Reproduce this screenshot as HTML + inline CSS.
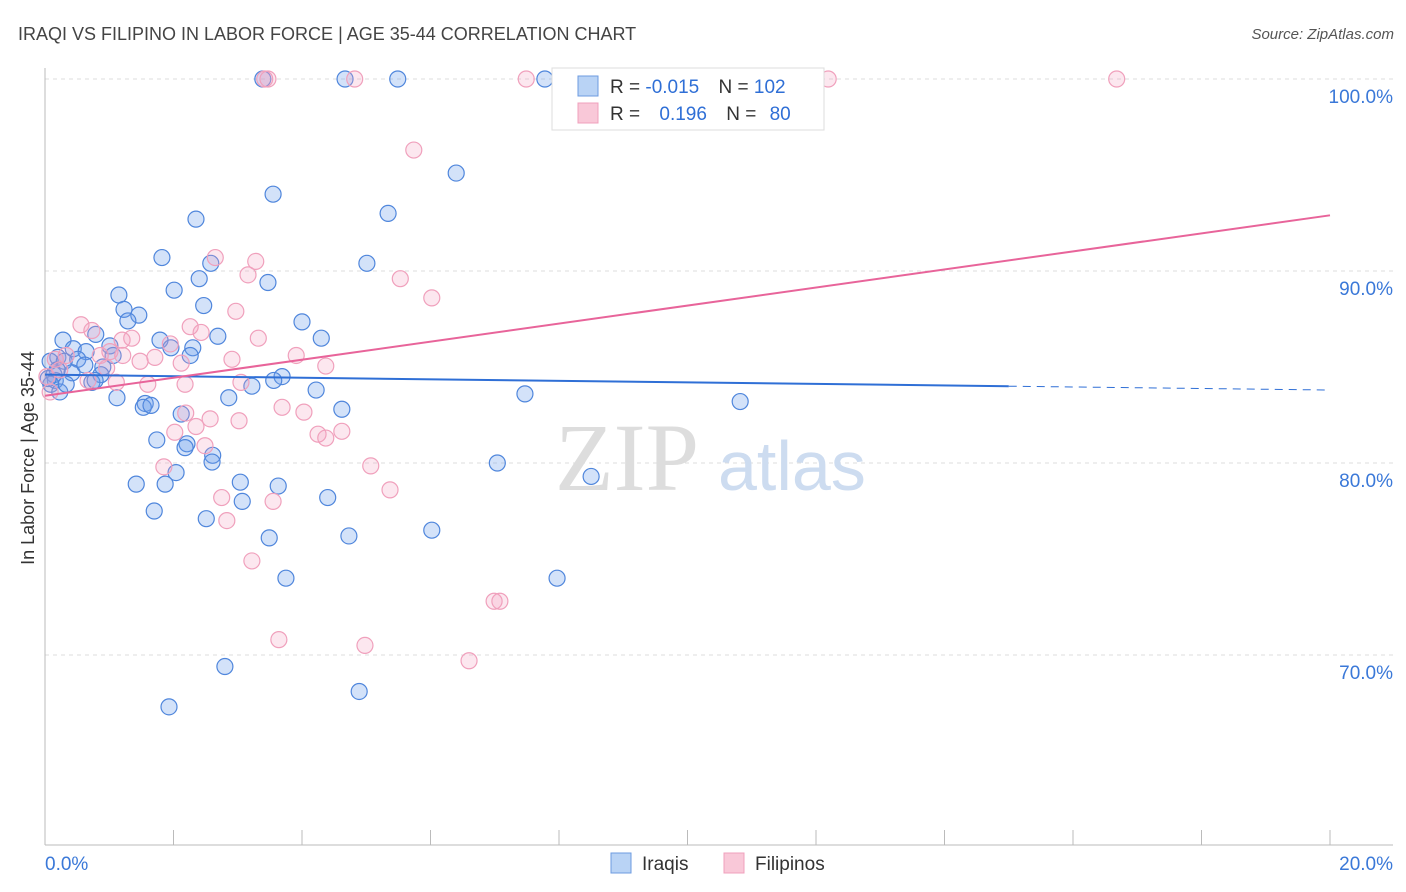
<!DOCTYPE html>
<html><head><meta charset="utf-8"><style>
body{margin:0;background:#fff;font-family:"Liberation Sans",sans-serif;}
svg{display:block}
</style></head><body>
<svg id="chart" width="1406" height="892" xmlns="http://www.w3.org/2000/svg">
<text x="18" y="40" font-size="18" fill="#444">IRAQI VS FILIPINO IN LABOR FORCE | AGE 35-44 CORRELATION CHART</text>
<text x="1394" y="39" font-size="15" fill="#555" font-style="italic" text-anchor="end">Source: ZipAtlas.com</text>
<g id="grid"></g>
<text x="555" y="490" font-size="96" fill="#ddd" font-family="Liberation Serif,serif">ZIP</text>
<text x="718" y="490" font-size="70" fill="#cddcf0">atlas</text>
<g id="points"></g>
<g id="trends"></g>
<text transform="translate(34,458) rotate(-90)" font-size="18" fill="#333" text-anchor="middle">In Labor Force | Age 35-44</text>
<g>
<rect x="552" y="68" width="272" height="62" fill="#fff" stroke="#ddd"/>
<rect x="578" y="76" width="20" height="20" fill="#b9d3f5" stroke="#6d9be0"/>
<rect x="578" y="103" width="20" height="20" fill="#f9c8d8" stroke="#f0a0bc"/>
<text x="610" y="93" font-size="19" fill="#333">R = <tspan fill="#2f6fd6">-0.015</tspan>  <tspan dx="14">N = </tspan><tspan fill="#2f6fd6">102</tspan></text>
<text x="610" y="120" font-size="19" fill="#333">R = <tspan fill="#2f6fd6" dx="14">0.196</tspan>  <tspan dx="14">N = </tspan><tspan fill="#2f6fd6" dx="8">80</tspan></text>
</g>
<g>
<rect x="611" y="853" width="20" height="20" fill="#b9d3f5" stroke="#6d9be0"/>
<text x="642" y="870" font-size="19" fill="#333">Iraqis</text>
<rect x="724" y="853" width="20" height="20" fill="#f9c8d8" stroke="#f0a0bc"/>
<text x="755" y="870" font-size="19" fill="#333">Filipinos</text>
</g>
</svg>
<script>
const yTicks=[100,90,80,70];
const xTickLabels=["0.0%","20.0%"];
const iraqiX=[3.39,4.67,5.49,7.78,6.40,3.55,5.34,2.35,1.82,5.01,2.58,2.40,3.47,2.01,1.15,2.47,1.23,1.46,1.29,4.0,2.69,4.30,0.79,0.28,1.79,1.96,2.30,1.01,0.44,0.64,2.26,0.20,0.08,0.30,0.51,0.90,0.14,0.42,0.87,3.69,3.56,0.73,0.16,0.09,0.23,1.12,2.86,3.22,4.22,7.47,10.82,1.56,1.53,1.65,4.62,2.12,1.74,2.21,2.18,2.61,2.60,7.04,2.04,1.42,1.87,3.04,3.63,8.50,4.40,3.07,1.70,2.51,6.02,4.73,3.49,3.75,7.97,2.80,4.89,1.93,0.19,0.33,0.05,0.62,0.78,1.06];
const iraqiY=[100,100,100,100,95.1,94.0,93.0,92.7,90.7,90.4,90.4,89.6,89.4,89.0,88.75,88.2,88.0,87.7,87.4,87.35,86.6,86.5,86.7,86.4,86.4,86.0,86.0,86.1,85.95,85.8,85.6,85.5,85.3,85.3,85.4,85.0,84.6,84.7,84.6,84.5,84.3,84.2,84.3,84.1,83.7,83.4,83.4,84.0,83.8,83.6,83.2,83.1,82.9,83.0,82.8,82.55,81.2,81.0,80.8,80.4,80.05,80.0,79.5,78.9,78.9,79.0,78.8,79.3,78.2,78.0,77.5,77.1,76.5,76.2,76.1,74.0,74.0,69.4,68.1,67.3,84.85,84.1,84.4,85.1,84.3,85.6];
const filX=[3.42,3.47,4.82,7.49,12.19,16.68,5.74,2.65,3.28,3.16,5.53,6.02,2.97,0.56,0.73,2.26,2.43,1.35,3.32,1.95,1.20,1.01,0.33,0.16,1.71,2.91,3.91,2.12,1.21,1.60,2.18,3.05,4.37,0.96,0.67,0.03,0.08,1.11,2.19,2.57,3.69,4.03,4.25,4.37,4.62,3.02,2.35,2.02,2.49,1.85,5.07,5.37,3.55,2.75,2.83,3.22,6.99,7.08,3.64,4.98,6.60,1.48,0.86,0.23];
const filY=[100,100,100,100,100,100,96.3,90.7,90.5,89.8,89.6,88.6,87.9,87.2,86.9,87.1,86.8,86.5,86.5,86.2,86.4,85.8,85.6,85.4,85.5,85.4,85.6,85.2,85.6,84.1,84.1,84.2,85.05,84.95,84.3,84.5,83.7,84.2,82.6,82.3,82.9,82.65,81.5,81.3,81.65,82.2,81.9,81.6,80.9,79.8,79.85,78.6,78.0,78.2,77.0,74.9,72.8,72.8,70.8,70.5,69.7,85.3,85.6,84.85];
const iraqiTrend=[84.6,-0.04];
const filTrend=[83.5,0.47];
const NS="http://www.w3.org/2000/svg";
const X=v=>45+v*64.25, Y=v=>79+(100-v)*19.2;
function mk(tag,attrs,parent){const e=document.createElementNS(NS,tag);for(const k in attrs)e.setAttribute(k,attrs[k]);parent.appendChild(e);return e;}
const grid=document.getElementById('grid');
yTicks.forEach(t=>{
 const l=mk('line',{x1:45,x2:1393,y1:Y(t),y2:Y(t),stroke:'#ddd','stroke-dasharray':'4,4'},grid);
 
 
 const tx=mk('text',{x:1393,y:Y(t)+24,'font-size':19,fill:'#3a78d8','text-anchor':'end'},grid);
 tx.textContent=t.toFixed(1)+'%';
 
 
});
const ax=mk('line',{x1:45,x2:45,y1:68,y2:845,stroke:'#bbb'},grid);


const bx=mk('line',{x1:45,x2:1393,y1:845,y2:845,stroke:'#bbb'},grid);


for(let v=0;v<=20;v+=2){
 const t=mk('line',{x1:X(v),x2:X(v),y1:830,y2:845,stroke:'#bbb'},grid);
 
 
}
[[0,'start'],[20,'end']].forEach((p,i)=>{
 const tx=mk('text',{x:X(p[0])+(i?63:0),y:870,'font-size':19,fill:'#3a78d8','text-anchor':p[1]},grid);
 tx.textContent=xTickLabels[i];
 
 
});
const pts=document.getElementById('points');
iraqiX.forEach((x,i)=>{
 const c=mk('circle',{cx:X(x),cy:Y(iraqiY[i]),r:8,fill:'rgba(110,160,235,0.3)',stroke:'#4f86dc','stroke-width':1.2},pts);
 
 
});
filX.forEach((x,i)=>{
 const c=mk('circle',{cx:X(x),cy:Y(filY[i]),r:8,fill:'rgba(245,160,190,0.25)',stroke:'#f0a0bc','stroke-width':1.2},pts);
 
 
});
const tr=document.getElementById('trends');
const f=(t,x)=>t[0]+t[1]*x;
const b1=mk('line',{x1:X(0),y1:Y(f(iraqiTrend,0)),x2:X(15),y2:Y(f(iraqiTrend,15)),stroke:'#2f6fd6','stroke-width':2},tr);


const b2=mk('line',{x1:X(15),y1:Y(f(iraqiTrend,15)),x2:X(20),y2:Y(f(iraqiTrend,20)),stroke:'#2f6fd6','stroke-width':1,'stroke-dasharray':'8,6'},tr);


const p1=mk('line',{x1:X(0),y1:Y(f(filTrend,0)),x2:X(20),y2:Y(f(filTrend,20)),stroke:'#e8649a','stroke-width':2},tr);


</script>
</body></html>
